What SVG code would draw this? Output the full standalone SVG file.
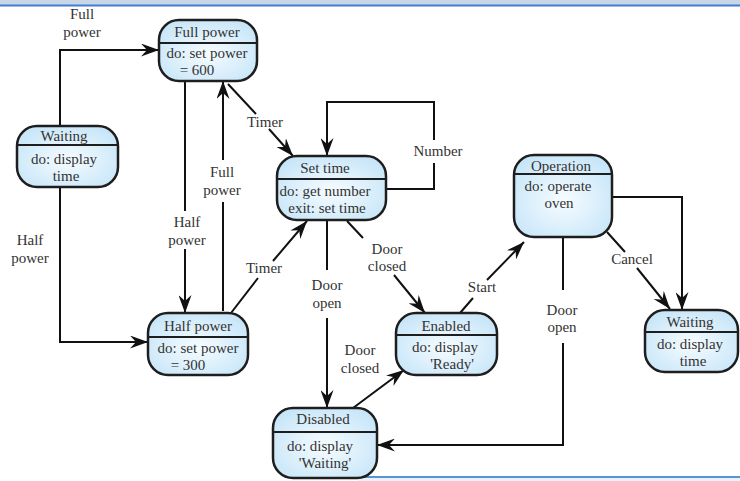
<svg xmlns="http://www.w3.org/2000/svg" width="740" height="481" viewBox="0 0 740 481">
<style>
.node rect.box{fill:url(#g);stroke:#1e1e1e;stroke-width:2.5}
.node line{stroke:#1e1e1e;stroke-width:2}
text{font-family:"Liberation Serif","DejaVu Serif",serif;font-size:15px;fill:#333;text-anchor:middle}
#edges path{fill:none;stroke:#111;stroke-width:2}
</style>
<defs>
<radialGradient id="g" cx="50%" cy="55%" r="65%">
<stop offset="0" stop-color="#f6fcff"/>
<stop offset="1" stop-color="#c4e4f8"/>
</radialGradient>
<marker id="a" viewBox="0 0 18 13" refX="18" refY="6.5" markerWidth="18" markerHeight="13" markerUnits="userSpaceOnUse" orient="auto">
<path d="M0,0 L18,6.5 L0,13 L6,6.5 Z" fill="#111"/>
</marker>
</defs>
<rect x="0" y="0" width="740" height="5" fill="#c9d6e8"/>
<line x1="0" y1="5.5" x2="740" y2="5.5" stroke="#3f7dd2" stroke-width="2"/>
<rect x="358" y="478" width="382" height="3" fill="#e9f1fb"/>
<line x1="358" y1="477" x2="740" y2="477" stroke="#5a92da" stroke-width="2"/>

<g id="edges">
<path d="M60,126 V50 H159" marker-end="url(#a)"/>
<path d="M60,187 V342 H148" marker-end="url(#a)"/>
<path d="M185,81 V211 M185,249 V313" marker-end="url(#a)"/>
<path d="M223,311 V202 M223,160 V81" marker-end="url(#a)"/>
<path d="M228,84 L256,114 M269,129 L293,156" marker-end="url(#a)"/>
<path d="M231,313 L258,278 M273,261 L307,221" marker-end="url(#a)"/>
<path d="M386,189 H434 V163 M434,140 V102 H327 V156" marker-end="url(#a)"/>
<path d="M327,220 V270 M327,318 V408" marker-end="url(#a)"/>
<path d="M347,221 L363,238 M394,275 L425,313" marker-end="url(#a)"/>
<path d="M353,408 L404,370" marker-end="url(#a)"/>
<path d="M460,313 L473,298 M487,280 L524,242" marker-end="url(#a)"/>
<path d="M563,237 V290 M563,343 V445 H377" marker-end="url(#a)"/>
<path d="M607,232 L625,252 M637,268 L670,309" marker-end="url(#a)"/>
<path d="M612,197 H682 V310" marker-end="url(#a)"/>
<text x="82" y="19">Full</text><text x="82" y="37">power</text>
<text x="30" y="245">Half</text><text x="30" y="263">power</text>
<text x="187" y="227">Half</text><text x="187" y="245">power</text>
<text x="222" y="177">Full</text><text x="222" y="195">power</text>
<text x="265" y="127">Timer</text>
<text x="264" y="273">Timer</text>
<text x="438" y="156">Number</text>
<text x="327" y="290">Door</text><text x="327" y="308">open</text>
<text x="387" y="254">Door</text><text x="387" y="271">closed</text>
<text x="360" y="355">Door</text><text x="360" y="373">closed</text>
<text x="482" y="292">Start</text>
<text x="562" y="315">Door</text><text x="562" y="332">open</text>
<text x="632" y="264">Cancel</text>
</g>

<g id="waiting1" class="node">
<rect class="box" x="17" y="126" width="101" height="61" rx="20"/>
<line x1="17" y1="145" x2="118" y2="145"/>
<text x="64" y="141">Waiting</text>
<text x="64" y="164">do: display</text>
<text x="66" y="181">time</text>
</g>
<g id="fullpower" class="node">
<rect class="box" x="159" y="20" width="98" height="61" rx="20"/>
<line x1="159" y1="43" x2="257" y2="43"/>
<text x="207" y="37">Full power</text>
<text x="207" y="58">do: set power</text>
<text x="197" y="75">= 600</text>
</g>
<g id="halfpower" class="node">
<rect class="box" x="148" y="313" width="100" height="62" rx="20"/>
<line x1="148" y1="337" x2="248" y2="337"/>
<text x="198" y="331">Half power</text>
<text x="198" y="353">do: set power</text>
<text x="188" y="370">= 300</text>
</g>
<g id="settime" class="node">
<rect class="box" x="277" y="156" width="109" height="64" rx="20"/>
<line x1="277" y1="179" x2="386" y2="179"/>
<text x="325" y="173">Set time</text>
<text x="325" y="196">do: get number</text>
<text x="327" y="213">exit: set time</text>
</g>
<g id="enabled" class="node">
<rect class="box" x="396" y="313" width="101" height="62" rx="20"/>
<line x1="396" y1="335" x2="497" y2="335"/>
<text x="446" y="331">Enabled</text>
<text x="445" y="352">do: display</text>
<text x="452" y="369">'Ready'</text>
</g>
<g id="disabled" class="node">
<rect class="box" x="273" y="408" width="104" height="70" rx="20"/>
<line x1="273" y1="432" x2="377" y2="432"/>
<text x="323" y="424">Disabled</text>
<text x="320" y="451">do: display</text>
<text x="325" y="468">'Waiting'</text>
</g>
<g id="operation" class="node">
<rect class="box" x="514" y="155" width="98" height="82" rx="20"/>
<line x1="514" y1="174" x2="612" y2="174"/>
<text x="561" y="171">Operation</text>
<text x="558" y="191">do: operate</text>
<text x="559" y="208">oven</text>
</g>
<g id="waiting2" class="node">
<rect class="box" x="645" y="310" width="93" height="62" rx="20"/>
<line x1="645" y1="332" x2="738" y2="332"/>
<text x="690" y="327">Waiting</text>
<text x="690" y="349">do: display</text>
<text x="693" y="366">time</text>
</g>
</svg>
